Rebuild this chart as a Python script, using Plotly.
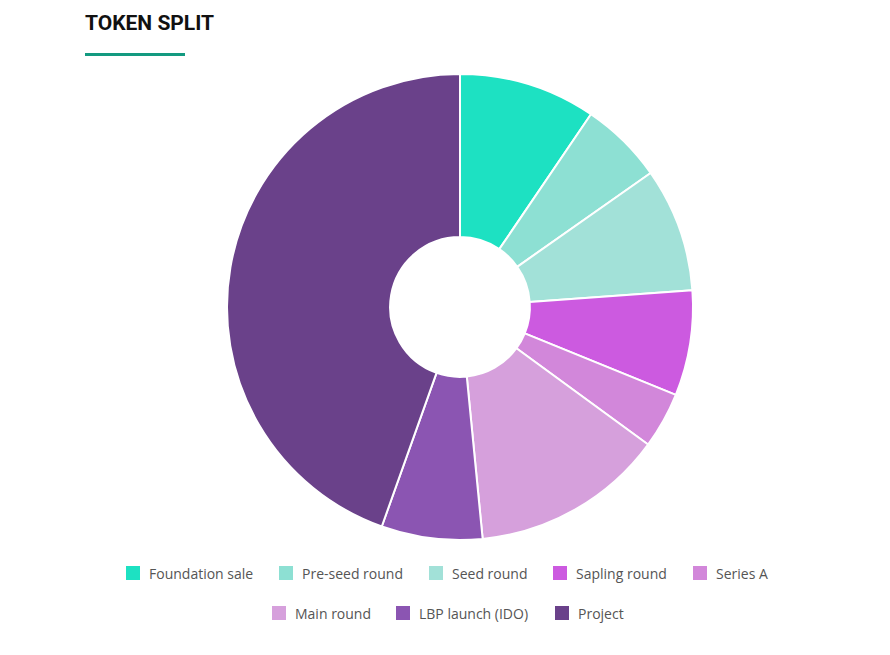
import plotly.graph_objects as go

labels = ["Foundation sale", "Pre-seed round", "Seed round", "Sapling round",
          "Series A", "Main round", "LBP launch (IDO)", "Project"]
values = [9.5, 5.75, 8.6, 7.3, 3.9, 13.4, 7.0, 44.55]
colors = ["#1de1c2", "#8de0d3", "#a2e1d8", "#cc5ae0",
          "#d287da", "#d6a0dc", "#8b55b2", "#6a418a"]

W, H = 890, 655
cx, cy, r = 460, 307, 233

fig = go.Figure(go.Pie(
    labels=labels, values=values, sort=False, direction="clockwise",
    rotation=0, hole=0.30, textinfo="none", hoverinfo="label+percent",
    marker=dict(colors=colors, line=dict(color="white", width=2)),
    domain=dict(x=[(cx - r) / W, (cx + r) / W],
                y=[(H - cy - r) / H, (H - cy + r) / H]),
    showlegend=False,
))

# manual centered legend (layout positions)
legend_pos = [(126, 573), (279, 573), (429, 573), (553, 573), (693, 573),
              (272, 613), (396, 613), (555, 613)]
shapes = []
annotations = []
sq = 14
for lab, col, (x, y) in zip(labels, colors, legend_pos):
    shapes.append(dict(type="rect", xref="paper", yref="paper",
                       x0=x / W, x1=(x + sq) / W,
                       y0=(H - y - sq / 2) / H, y1=(H - y + sq / 2) / H,
                       fillcolor=col, line=dict(width=0)))
    annotations.append(dict(text=lab, xref="paper", yref="paper",
                            x=(x + sq + 7) / W, y=(H - y) / H,
                            xanchor="left", yanchor="middle", showarrow=False,
                            font=dict(family="Open Sans", size=14, color="#555555")))

# title underline
shapes.append(dict(type="rect", xref="paper", yref="paper",
                   x0=85 / W, x1=185 / W, y0=(H - 56) / H, y1=(H - 53) / H,
                   fillcolor="#139a80", line=dict(width=0)))
annotations.append(dict(text="<b>TOKEN SPLIT</b>", xref="paper", yref="paper",
                        x=83 / W, y=(H - 23) / H, xanchor="left", yanchor="middle",
                        showarrow=False,
                        font=dict(family="Roboto", size=21, color="#111111")))

fig.update_layout(width=W, height=H, margin=dict(l=0, r=0, t=0, b=0),
                  paper_bgcolor="white", plot_bgcolor="white",
                  shapes=shapes, annotations=annotations)
fig.write_html("out.html")
